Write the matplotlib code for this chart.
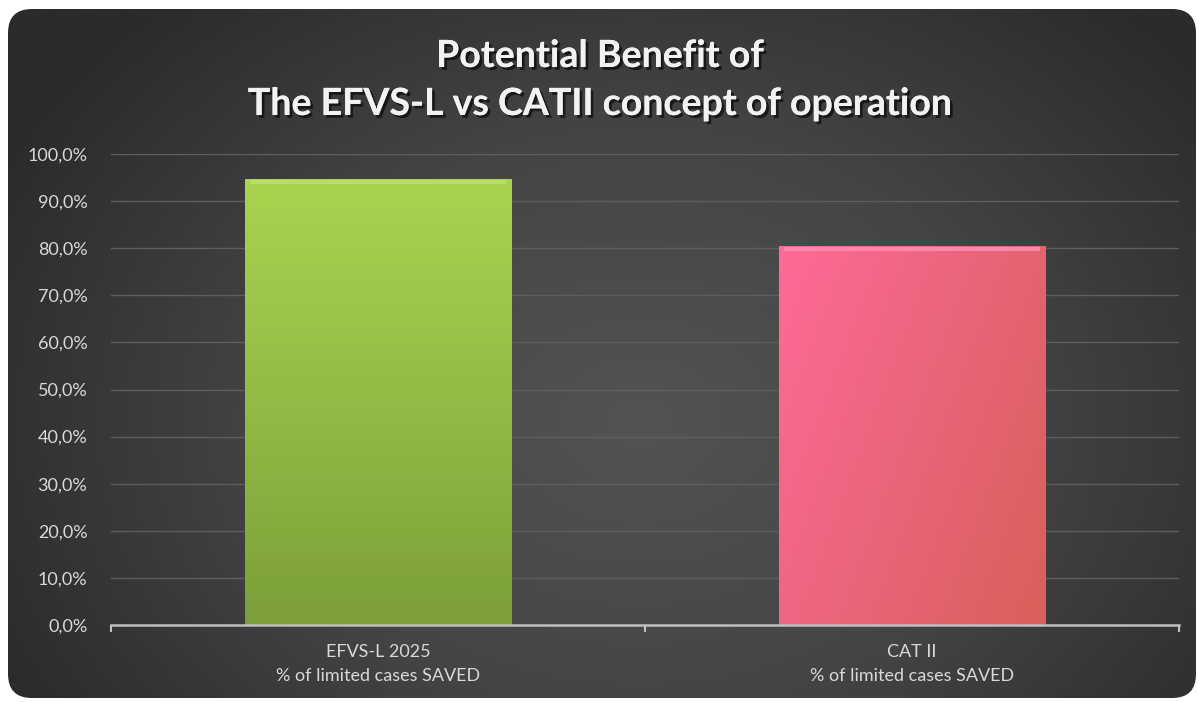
import numpy as np
import matplotlib.pyplot as plt
from matplotlib.patches import FancyBboxPatch
from matplotlib.colors import LinearSegmentedColormap
import matplotlib.patheffects as pe

plt.rcParams['font.family'] = ['Lato', 'DejaVu Sans']

# Data
categories = ["EFVS-L 2025\n% of limited cases SAVED", "CAT II\n% of limited cases SAVED"]
values = [0.947, 0.805]
yticks = np.arange(0, 1.01, 0.1)
title = "Potential Benefit of\nThe EFVS-L vs CATII concept of operation"

W, H = 1199, 702
fig = plt.figure(figsize=(W / 100, H / 100), dpi=100, facecolor="white")

# background panel with rounded corners and radial gradient
bg = fig.add_axes([0, 0, 1, 1])
bg.set_xlim(0, W)
bg.set_ylim(H, 0)
bg.axis("off")
panel = FancyBboxPatch((8, 9), 1188, 689, boxstyle="round,pad=0,rounding_size=24",
                       facecolor="none", edgecolor="none")
bg.add_patch(panel)
yy, xx = np.mgrid[0:H:2, 0:W:2]
d = np.sqrt(((xx - 640) / 720.0) ** 2 + ((yy - 420) / 560.0) ** 2)
d = np.clip(d, 0, 1)
bg_cmap = LinearSegmentedColormap.from_list("bg", ["#535353", "#454545", "#2b2b2b"])
im = bg.imshow(d, cmap=bg_cmap, extent=[0, W, H, 0], vmin=0, vmax=1,
               interpolation="bilinear", aspect="auto", zorder=2)
im.set_clip_path(panel)
bg.set_xlim(0, W)
bg.set_ylim(H, 0)

# title with shadow
fig.text(0.5, 1 - 80 / H, title, ha="center", va="center", color="#f2f2f2",
         fontsize=27, fontweight="bold", linespacing=1.5,
         path_effects=[pe.withSimplePatchShadow(offset=(2, -2), shadow_rgbFace="black", alpha=0.6),
                       pe.Normal()])

# main axes
left, right, top, bottom = 111, 1179, 154, 625
ax = fig.add_axes([left / W, 1 - bottom / H, (right - left) / W, (bottom - top) / H])
ax.set_facecolor("none")

x = np.arange(len(values))
bars = ax.bar(x, values, width=0.5, color=["#a2c94a", "#ec6680"], edgecolor="none", zorder=3)

grads = [
    LinearSegmentedColormap.from_list("g", ["#7c9f3a", "#93bb45", "#aad34f"]),
    LinearSegmentedColormap.from_list("p", ["#d9605a", "#e8657a", "#ff6a96"]),
]
for i, b in enumerate(bars):
    x0, w, h = b.get_x(), b.get_width(), b.get_height()
    if i == 0:
        g = np.linspace(1, 0, 100)[:, None] * np.ones((1, 20))
    else:
        gy = np.linspace(1, 0, 100)[:, None]
        gx = np.linspace(1, 0, 60)[None, :]
        g = 0.65 * gx + 0.35 * gy
    gi = ax.imshow(g, cmap=grads[i], extent=[x0, x0 + w, 0, h], origin="upper",
                   aspect="auto", zorder=4, vmin=0, vmax=1, interpolation="bilinear")
    gi.set_clip_path(b)
    # bevel highlight at top
    hl = "#bfe06a" if i == 0 else "#ff90b4"
    ax.plot([x0 + 0.01, x0 + w - 0.01], [h - 0.007, h - 0.007], color=hl, lw=3,
            alpha=0.8, zorder=5, solid_capstyle="butt")

ax.set_xlim(-0.5, 1.5)
ax.set_ylim(0, 1.0)

ax.set_yticks(yticks)
ax.set_yticklabels([f"{v * 100:.1f}%".replace(".", ",") for v in yticks])
ax.yaxis.grid(True, color="#5e5e5e", lw=1, zorder=0)
ax.tick_params(axis="y", length=0, pad=17, labelsize=13, labelcolor="#d9d9d9")

ax.set_xticks([-0.5, 0.5, 1.5])
ax.set_xticklabels([])
ax.set_xticks(x, minor=True)
ax.set_xticklabels(categories, minor=True, linespacing=1.55)
ax.tick_params(axis="x", which="major", length=5, width=1.5, color="#bfbfbf", direction="out")
ax.tick_params(axis="x", which="minor", length=0, pad=14, labelsize=13, labelcolor="#d9d9d9")

for s in ["top", "right", "left"]:
    ax.spines[s].set_visible(False)
ax.spines["bottom"].set_color("#bfbfbf")
ax.spines["bottom"].set_linewidth(1.8)
ax.spines["bottom"].set_zorder(6)

fig.savefig("out.png", dpi=100, facecolor="white")
